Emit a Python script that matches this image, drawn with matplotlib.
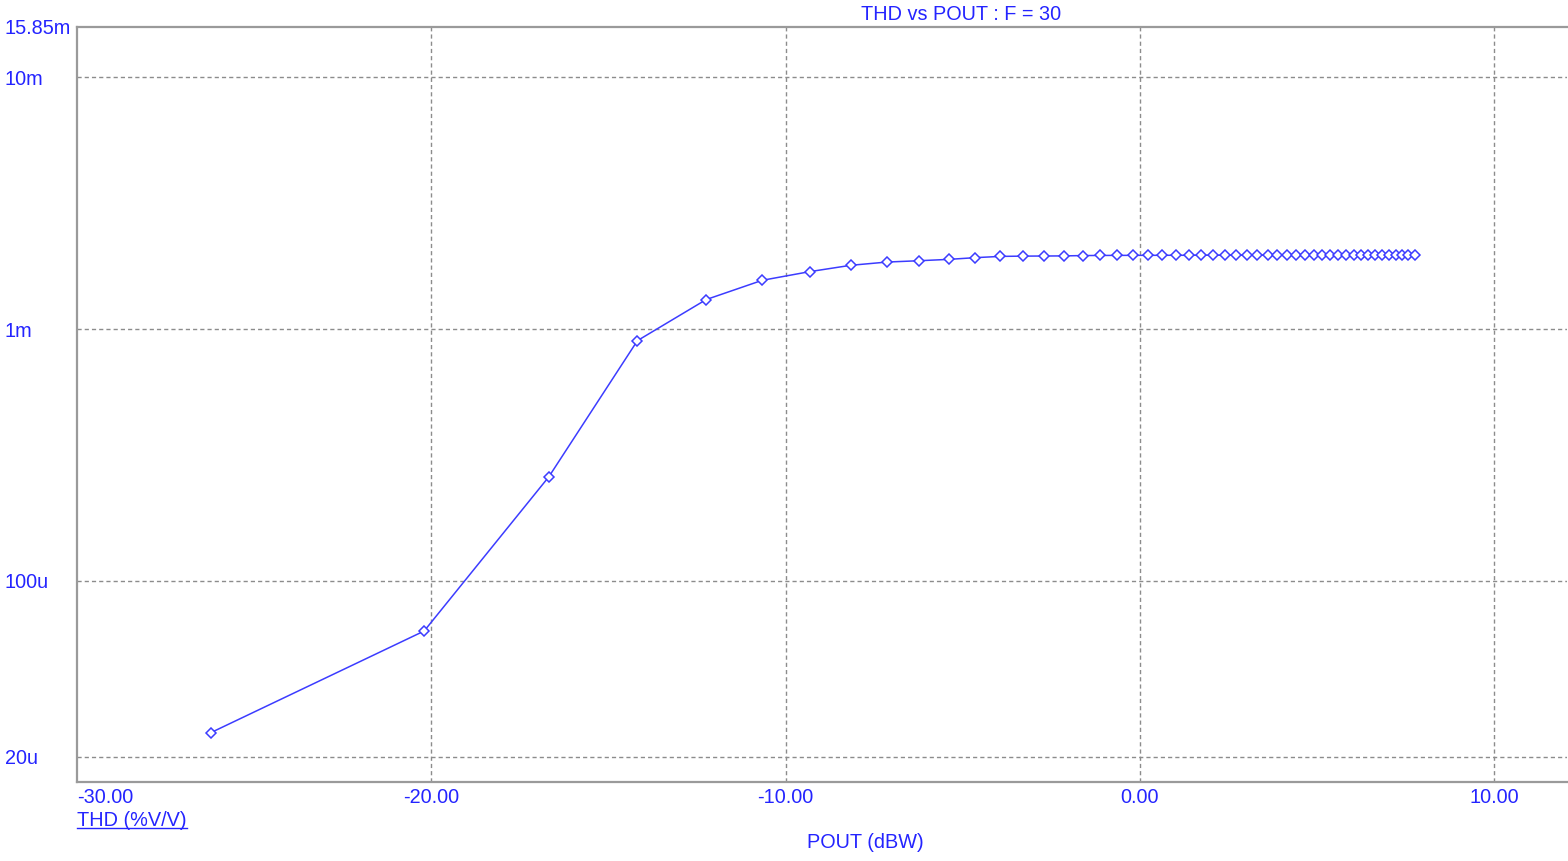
import matplotlib
matplotlib.use('Agg')
import matplotlib.pyplot as plt
from matplotlib.lines import Line2D

# POUT (dBW) and THD (%V/V)
pout = [-26.22, -20.20, -16.68, -14.18, -12.24, -10.66, -9.32, -8.16, -7.14, -6.22,
        -5.39, -4.64, -3.94, -3.30, -2.70, -2.14, -1.61, -1.11, -0.64, -0.20,
        0.22, 0.63, 1.01, 1.38, 1.74, 2.08, 2.41, 2.72, 3.03, 3.32,
        3.61, 3.88, 4.15, 4.41, 4.66, 4.91, 5.14, 5.38, 5.60, 5.82,
        6.04, 6.24, 6.45, 6.65, 6.84, 7.04, 7.22, 7.40, 7.58, 7.76]
thd = [24.9e-6, 63.1e-6, 258.8e-6, 0.899e-3, 1.309e-3, 1.561e-3, 1.690e-3, 1.791e-3, 1.845e-3, 1.868e-3,
       1.891e-3, 1.921e-3, 1.943e-3, 1.948e-3, 1.950e-3, 1.952e-3, 1.958e-3, 1.960e-3, 1.961e-3, 1.962e-3,
       1.962e-3, 1.963e-3, 1.963e-3, 1.963e-3, 1.964e-3, 1.964e-3, 1.964e-3, 1.964e-3, 1.965e-3, 1.965e-3,
       1.965e-3, 1.965e-3, 1.965e-3, 1.965e-3, 1.965e-3, 1.966e-3, 1.966e-3, 1.966e-3, 1.966e-3, 1.966e-3,
       1.966e-3, 1.966e-3, 1.966e-3, 1.966e-3, 1.966e-3, 1.966e-3, 1.966e-3, 1.966e-3, 1.966e-3, 1.966e-3]

xticks = [-30, -20, -10, 0, 10]
xticklabels = ['-30.00', '-20.00', '-10.00', '0.00', '10.00']
yticks = [15.85e-3, 10e-3, 1e-3, 100e-6, 20e-6]
yticklabels = ['15.85m', '10m', '1m', '100u', '20u']

txtcol = '#2424ff'
linecol = '#3c3cff'
gridcol = '#8c8c8c'
fs = 14.3

plt.rcParams['font.family'] = ['Liberation Sans', 'DejaVu Sans']
fig = plt.figure(figsize=(15.68, 8.61), dpi=100)
ax = fig.add_axes([77/1568, 79/861, 1490/1568, 755/861])

ax.plot(pout, thd, color=linecol, lw=1.1, marker='D', ms=5.5, mfc='white', mec=linecol, mew=1.1)

ax.set_yscale('log')
ax.set_xlim(-30, 12.06)
ax.set_ylim(10**-4.8, 10**-1.8)
ax.minorticks_off()

ax.set_xticks(xticks)
ax.set_xticklabels(xticklabels)
ax.set_yticks(yticks)
ax.set_yticklabels(yticklabels)
ax.tick_params(axis='both', length=0, labelsize=fs, labelcolor=txtcol)
ax.tick_params(axis='y', pad=52)
ax.tick_params(axis='x', pad=4)
for t in ax.get_yticklabels():
    t.set_ha('left')
ax.get_xticklabels()[0].set_ha('left')

for x in xticks[1:]:
    ax.axvline(x, color=gridcol, lw=1, ls=(0, (3, 2.2)), zorder=0)
for y in yticks[1:]:
    ax.axhline(y, color=gridcol, lw=1, ls=(0, (3, 2.2)), zorder=0)

for s in ax.spines.values():
    s.set_color('#9a9a9a')
    s.set_linewidth(1.6)
ax.spines['right'].set_visible(False)

fig.text(961/1568, 1 - 15/861, 'THD vs POUT : F = 30', color=txtcol, fontsize=fs,
         ha='center', va='center')
fig.text(865/1568, 1 - 843/861, 'POUT (dBW)', color=txtcol, fontsize=fs,
         ha='center', va='center')
ylab = fig.text(77/1568, 1 - 820/861, 'THD (%V/V)', color=txtcol, fontsize=fs,
                ha='left', va='center')

# underline the y label
fig.canvas.draw()
bb = ylab.get_window_extent().transformed(fig.transFigure.inverted())
fig.add_artist(Line2D([bb.x0, bb.x1], [bb.y0 + 0.002, bb.y0 + 0.002], color=txtcol, lw=1,
                      transform=fig.transFigure))

fig.savefig('out.png', dpi=100)
